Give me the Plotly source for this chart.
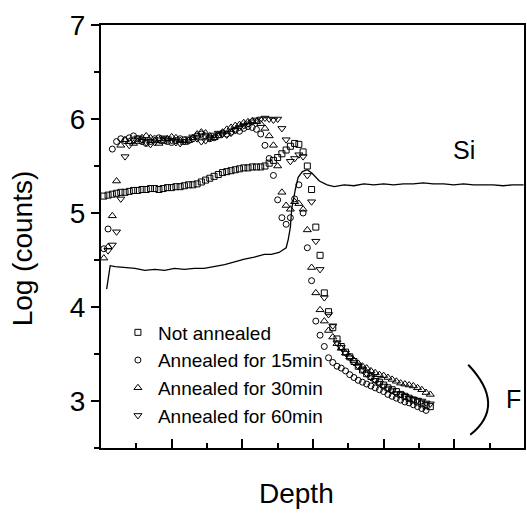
import plotly.graph_objects as go

# ---------------- data ----------------
depth = [0.04, 0.10, 0.16, 0.22, 0.28, 0.34, 0.40, 0.46, 0.52, 0.58,
         0.64, 0.70, 0.76, 0.82, 0.88, 0.94, 1.00, 1.06, 1.12, 1.18,
         1.24, 1.30, 1.36, 1.42, 1.48, 1.54, 1.60, 1.66, 1.72, 1.78,
         1.84, 1.90, 1.96, 2.02, 2.08, 2.14, 2.20, 2.26, 2.32, 2.38,
         2.44, 2.50, 2.56, 2.62, 2.68, 2.74, 2.80, 2.86, 2.92, 2.98,
         3.04, 3.10, 3.16, 3.22, 3.28, 3.34, 3.40, 3.46, 3.52, 3.58,
         3.64, 3.70, 3.76, 3.82, 3.88, 3.94, 4.00, 4.06, 4.12, 4.18,
         4.24, 4.30, 4.36, 4.42, 4.48, 4.54, 4.60, 4.66]

not_annealed = [5.18, 5.19, 5.20, 5.21, 5.22, 5.22, 5.23, 5.24, 5.24, 5.25,
                5.25, 5.26, 5.26, 5.25, 5.26, 5.27, 5.27, 5.28, 5.28, 5.29,
                5.30, 5.30, 5.31, 5.33, 5.35, 5.37, 5.39, 5.41, 5.43, 5.44,
                5.45, 5.46, 5.47, 5.48, 5.48, 5.49, 5.49, 5.49, 5.50, 5.53,
                5.56, 5.59, 5.63, 5.67, 5.71, 5.74, 5.73, 5.65, 5.50, 5.25,
                4.85, 4.55, 4.15, 3.95, 3.78, 3.66, 3.58, 3.52, 3.47, 3.42,
                3.37, 3.33, 3.29, 3.26, 3.23, 3.20, 3.17, 3.14, 3.12, 3.10,
                3.07, 3.05, 3.03, 3.01, 2.99, 2.97, 2.95, 2.94]

annealed_15 = [4.62, 4.83, 5.68, 5.76, 5.79, 5.77, 5.80, 5.82, 5.79, 5.76,
               5.74, 5.76, 5.79, 5.80, 5.78, 5.76, 5.75, 5.77, 5.79, 5.78,
               5.77, 5.79, 5.82, 5.84, 5.82, 5.79, 5.80, 5.83, 5.85, 5.84,
               5.86, 5.88, 5.87, 5.90, 5.92, 5.91, 5.89, 5.84, 5.72, 5.58,
               5.40, 5.14, 4.95, 4.88, 4.95, 5.15, 5.30, 5.00, 4.63, 4.28,
               3.85, 3.70, 3.58, 3.46, 3.41, 3.37, 3.35, 3.32, 3.28, 3.25,
               3.22, 3.20, 3.18, 3.16, 3.14, 3.12, 3.10, 3.07, 3.05, 3.03,
               3.01, 2.99, 2.98, 2.96, 2.94, 2.92, 2.90, None]

annealed_30 = [4.52, 4.64, 4.97, 5.34, 5.72, 5.78, 5.76, 5.74, 5.76, 5.80,
               5.82, 5.80, 5.77, 5.74, 5.76, 5.79, 5.81, 5.80, 5.77, 5.75,
               5.77, 5.80, 5.84, 5.86, 5.85, 5.82, 5.80, 5.82, 5.86, 5.89,
               5.91, 5.93, 5.94, 5.96, 5.97, 5.98, 5.97, 5.95, 5.90, 5.82,
               5.72, 5.50, 5.22, 5.08, 5.04, 5.12, 5.10, 5.04, 4.82, 4.42,
               4.15, 3.97, 3.85, 3.75, 3.68, 3.61, 3.56, 3.51, 3.47, 3.43,
               3.40, 3.37, 3.35, 3.32, 3.30, 3.28, 3.27, 3.25, 3.23, 3.21,
               3.19, 3.18, 3.17, 3.16, 3.14, 3.12, 3.09, 3.07]

annealed_60 = [None, 4.60, 4.66, 4.80, 5.15, 5.60, 5.72, 5.78, 5.80, 5.78,
               5.75, 5.73, 5.75, 5.78, 5.80, 5.79, 5.77, 5.75, 5.74, 5.76,
               5.79, 5.81, 5.79, 5.76, 5.77, 5.80, 5.83, 5.85, 5.84, 5.83,
               5.85, 5.88, 5.91, 5.93, 5.95, 5.97, 5.99, 6.00, 6.01, 6.00,
               5.99, 6.00, 5.90, 5.78, 5.55, 5.58, 5.62, 5.60, 5.40, 5.12,
               4.70, 4.40, 4.10, 3.92, 3.80, 3.62, 3.57, 3.51, 3.46, 3.41,
               3.37, 3.33, 3.29, 3.25, 3.22, 3.19, 3.16, 3.13, 3.11, 3.08,
               3.07, 3.05, 3.03, 3.02, 3.01, 3.00, 2.98, 2.97]

si_depth = [0.08, 0.13, 0.20, 0.34, 0.48, 0.62, 0.76, 0.90, 1.04, 1.18,
            1.32, 1.46, 1.61, 1.75, 1.89, 2.03, 2.17, 2.31, 2.41, 2.52,
            2.62, 2.65, 2.68, 2.70, 2.75, 2.79, 2.85, 2.92, 2.99, 3.09,
            3.20, 3.30, 3.44, 3.58, 3.72, 3.86, 4.00, 4.14, 4.28, 4.42,
            4.56, 4.70, 4.85, 4.99, 5.13, 5.27, 5.41, 5.55, 5.69, 5.83, 5.98]
si_counts = [4.19, 4.44, 4.43, 4.42, 4.41, 4.39, 4.40, 4.39, 4.41, 4.40,
             4.41, 4.41, 4.43, 4.45, 4.48, 4.51, 4.53, 4.56, 4.56, 4.58,
             4.63, 4.72, 4.85, 5.05, 5.25, 5.38, 5.44, 5.46, 5.42, 5.34,
             5.30, 5.28, 5.30, 5.29, 5.31, 5.30, 5.31, 5.30, 5.31, 5.31,
             5.32, 5.31, 5.31, 5.30, 5.31, 5.30, 5.30, 5.30, 5.29, 5.30, 5.30]

series_names = ["Not annealed", "Annealed for 15min",
                "Annealed for 30min", "Annealed for 60min"]
series_values = [not_annealed, annealed_15, annealed_30, annealed_60]
series_symbols = ["square-open", "circle-open", "triangle-up-open", "triangle-down-open"]
series_sizes = [6, 6, 7, 7]

FONT = "Liberation Sans, Arial, sans-serif"

fig = go.Figure()

fig.add_trace(go.Scatter(x=si_depth, y=si_counts, mode="lines",
                         line=dict(color="black", width=1.3),
                         showlegend=False, name="Si"))

for name, vals, sym, sz in zip(series_names, series_values, series_symbols, series_sizes):
    fig.add_trace(go.Scatter(
        x=depth, y=vals, mode="markers", name=name,
        marker=dict(symbol=sym, size=sz, color="black",
                    line=dict(color="black", width=1)),
    ))

fig.update_layout(
    width=527, height=517,
    margin=dict(l=101, r=1, t=25, b=69),
    paper_bgcolor="white", plot_bgcolor="white",
    font=dict(family=FONT, color="black"),
    showlegend=True,
    legend=dict(x=0.04, y=0.318, xanchor="left", yanchor="top",
                bgcolor="rgba(0,0,0,0)", borderwidth=0,
                font=dict(size=19, family=FONT, color="black"),
                itemsizing="trace"),
    xaxis=dict(range=[0, 425 / 71], showgrid=False, zeroline=False,
               showline=True, linecolor="black", linewidth=2, mirror=True,
               ticks="inside", ticklen=9, tickwidth=2, tickcolor="black",
               tick0=0, dtick=1, showticklabels=False,
               minor=dict(ticks="inside", ticklen=5, tickwidth=2,
                          tickcolor="black", dtick=0.5, tick0=0)),
    yaxis=dict(range=[2.5, 7], showgrid=False, zeroline=False,
               showline=True, linecolor="black", linewidth=2, mirror=True,
               ticks="outside", ticklen=8, tickwidth=2, tickcolor="black",
               tick0=0, dtick=1,
               tickfont=dict(size=28, family=FONT, color="black"),
               minor=dict(ticks="outside", ticklen=5, tickwidth=2,
                          tickcolor="black", dtick=0.5, tick0=0)),
    annotations=[
        dict(text="Log (counts)", textangle=-90, xref="paper", yref="paper",
             x=(22 - 101) / 425, y=1 - (248 - 25) / 423,
             xanchor="center", yanchor="middle", showarrow=False,
             font=dict(size=28, family=FONT, color="black")),
        dict(text="Depth", xref="paper", yref="paper",
             x=(297 - 101) / 425, y=1 - (493 - 25) / 423,
             xanchor="center", yanchor="middle", showarrow=False,
             font=dict(size=28, family=FONT, color="black")),
        dict(text="Si", xref="x", yref="y", x=5.14, y=5.67,
             xanchor="center", yanchor="middle", showarrow=False,
             font=dict(size=25, family=FONT, color="black")),
        dict(text="F", xref="x", yref="y", x=5.84, y=3.02,
             xanchor="center", yanchor="middle", showarrow=False,
             font=dict(size=25, family=FONT, color="black")),
    ],
    shapes=[
        dict(type="path", xref="x", yref="y",
             path="M 5.197,3.385 Q 5.746,2.95 5.225,2.640",
             line=dict(color="black", width=2)),
    ],
)

fig.write_html("out.html")
